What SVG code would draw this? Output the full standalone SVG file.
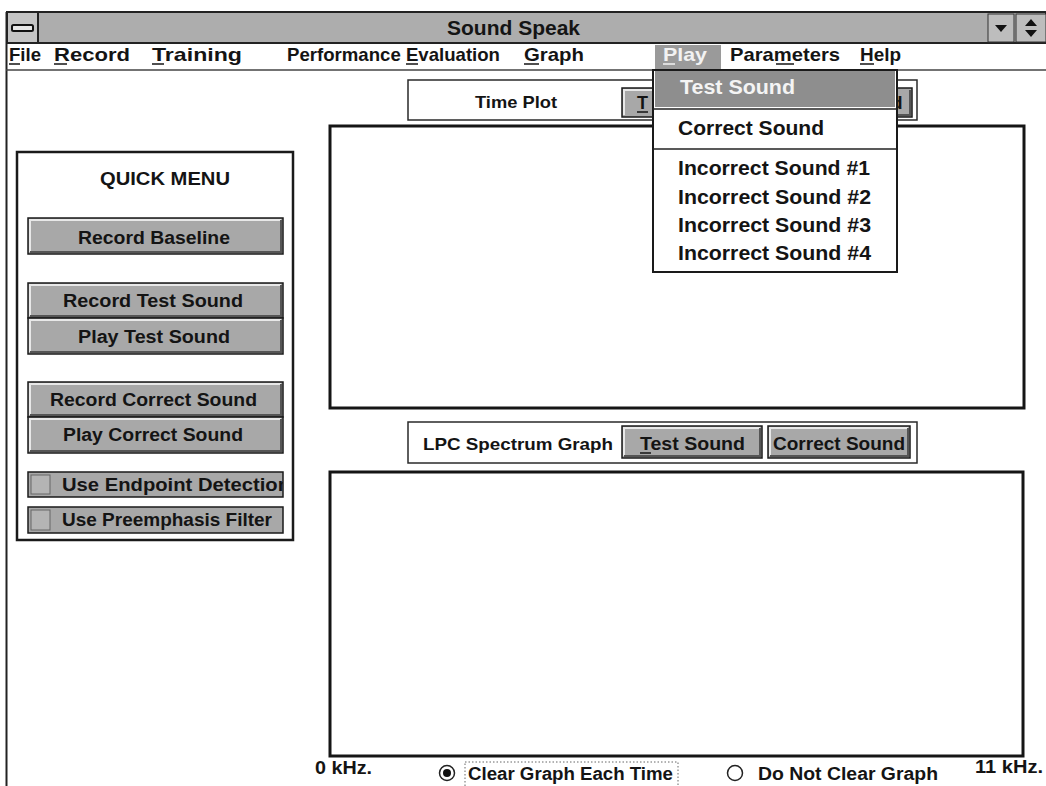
<svg xmlns="http://www.w3.org/2000/svg" width="1046" height="786" viewBox="0 0 1046 786">
  <defs>
    <style>
      text { font-family: "Liberation Sans", Arial, sans-serif; font-weight: bold; fill: #141414; }
      .menu { font-size: 19px; }
      .btn { font-size: 18px; }
      .dd { font-size: 20px; }
      .face { fill: #a8a8a8; stroke: #1a1a1a; stroke-width: 1.5; }
      .lite { fill: none; stroke: #e8e8e8; stroke-width: 2; }
      .dark { fill: none; stroke: #555; stroke-width: 2; }
      .plot { fill: #fff; stroke: #151515; stroke-width: 3; }
      .box { fill: #fff; stroke: #2a2a2a; stroke-width: 1.5; }
      .ul { stroke: #141414; stroke-width: 1.5; }
    </style>
  </defs>

  <rect width="1046" height="786" fill="#fff"/>

  <!-- window frame -->
  <g id="window-frame">
    <line x1="6.5" y1="12" x2="6.5" y2="786" stroke="#222" stroke-width="2"/>
    <line x1="6" y1="70" x2="1046" y2="70" stroke="#444" stroke-width="1.5"/>
  </g>

  <!-- title bar -->
  <g id="title-bar">
    <rect x="7" y="12" width="1039" height="31" fill="#adadad" stroke="#222" stroke-width="2"/>
    <rect x="7" y="12" width="31" height="31" fill="#c4c4c4" stroke="#222" stroke-width="2"/>
    <rect x="12" y="25" width="21" height="6" rx="1.5" fill="#e6e6e6" stroke="#111" stroke-width="2"/>
    <text x="447" y="35" font-size="21" textLength="133" lengthAdjust="spacingAndGlyphs">Sound Speak</text>
    <rect x="988" y="14" width="26" height="28" fill="#bdbdbd" stroke="#333" stroke-width="1"/>
    <path d="M995 25 L1007 25 L1001 32 Z" fill="#111"/>
    <rect x="1016" y="14" width="30" height="28" fill="#bdbdbd" stroke="#333" stroke-width="1"/>
    <path d="M1025 26 L1037 26 L1031 19 Z M1025 30 L1037 30 L1031 37 Z" fill="#111"/>
  </g>

  <!-- menu bar; mnemonic letters are underlined with short rules -->
  <g id="menu-bar">
    <rect x="655" y="45" width="66" height="24" fill="#9a9a9a"/>
    <text class="menu" x="9" y="61" textLength="32" lengthAdjust="spacingAndGlyphs">File</text>
    <line class="ul" x1="9" y1="64" x2="20" y2="64"/>
    <text class="menu" x="54" y="61" textLength="76" lengthAdjust="spacingAndGlyphs">Record</text>
    <line class="ul" x1="54" y1="64" x2="67" y2="64"/>
    <text class="menu" x="152" y="61" textLength="90" lengthAdjust="spacingAndGlyphs">Training</text>
    <line class="ul" x1="152" y1="64" x2="164" y2="64"/>
    <text class="menu" x="287" y="61" textLength="213" lengthAdjust="spacingAndGlyphs">Performance Evaluation</text>
    <line class="ul" x1="406" y1="64" x2="418" y2="64"/>
    <text class="menu" x="524" y="61" textLength="60" lengthAdjust="spacingAndGlyphs">Graph</text>
    <line class="ul" x1="524" y1="64" x2="539" y2="64"/>
    <text class="menu" x="663" y="61" textLength="44" lengthAdjust="spacingAndGlyphs" style="fill:#f2f2f2">Play</text>
    <line x1="663" y1="64" x2="675" y2="64" stroke="#f2f2f2" stroke-width="1.5"/>
    <text class="menu" x="730" y="61" textLength="110" lengthAdjust="spacingAndGlyphs">Parameters</text>
    <line class="ul" x1="776" y1="64" x2="794" y2="64"/>
    <text class="menu" x="860" y="61" textLength="41" lengthAdjust="spacingAndGlyphs">Help</text>
    <line class="ul" x1="860" y1="64" x2="874" y2="64"/>
  </g>

  <!-- quick menu panel -->
  <g id="quick-menu">
    <rect x="17" y="152" width="276" height="388" fill="#fff" stroke="#1a1a1a" stroke-width="2.5"/>
    <text x="100" y="185" font-size="19" textLength="130" lengthAdjust="spacingAndGlyphs">QUICK MENU</text>
  </g>

  <g id="btn-record-baseline">
    <rect class="face" x="28" y="218" width="255" height="36"/>
    <path class="lite" d="M30 252 V220 H281"/>
    <path class="dark" d="M30 252 H281 V220"/>
    <text class="btn" x="78" y="244" textLength="152" lengthAdjust="spacingAndGlyphs">Record Baseline</text>
  </g>

  <g id="btn-record-test">
    <rect class="face" x="28" y="283" width="255" height="35"/>
    <path class="lite" d="M30 316 V285 H281"/>
    <path class="dark" d="M30 316 H281 V285"/>
    <text class="btn" x="63" y="307" textLength="180" lengthAdjust="spacingAndGlyphs">Record Test Sound</text>
  </g>

  <g id="btn-play-test">
    <rect class="face" x="28" y="318" width="255" height="36"/>
    <path class="lite" d="M30 352 V320 H281"/>
    <path class="dark" d="M30 352 H281 V320"/>
    <text class="btn" x="78" y="343" textLength="152" lengthAdjust="spacingAndGlyphs">Play Test Sound</text>
  </g>

  <g id="btn-record-correct">
    <rect class="face" x="28" y="382" width="255" height="35"/>
    <path class="lite" d="M30 415 V384 H281"/>
    <path class="dark" d="M30 415 H281 V384"/>
    <text class="btn" x="50" y="406" textLength="207" lengthAdjust="spacingAndGlyphs">Record Correct Sound</text>
  </g>

  <g id="btn-play-correct">
    <rect class="face" x="28" y="417" width="255" height="36"/>
    <path class="lite" d="M30 451 V419 H281"/>
    <path class="dark" d="M30 451 H281 V419"/>
    <text class="btn" x="63" y="441" textLength="180" lengthAdjust="spacingAndGlyphs">Play Correct Sound</text>
  </g>

  <g id="chk-endpoint">
    <clipPath id="clip-endpoint"><rect x="28" y="470" width="255" height="30"/></clipPath>
    <rect class="face" x="28" y="472" width="255" height="25"/>
    <rect x="31" y="475" width="19" height="19" fill="#b4b4b4" stroke="#666" stroke-width="1"/>
    <text class="btn" x="62" y="491" textLength="228" lengthAdjust="spacingAndGlyphs" clip-path="url(#clip-endpoint)">Use Endpoint Detection</text>
  </g>

  <g id="chk-preemphasis">
    <rect class="face" x="28" y="507" width="255" height="26"/>
    <rect x="31" y="510" width="19" height="20" fill="#b4b4b4" stroke="#666" stroke-width="1"/>
    <text class="btn" x="62" y="526" textLength="210" lengthAdjust="spacingAndGlyphs">Use Preemphasis Filter</text>
  </g>

  <!-- time plot -->
  <g id="time-plot-bar">
    <rect class="box" x="408" y="80" width="509" height="40"/>
    <text x="475" y="108" font-size="17" textLength="82" lengthAdjust="spacingAndGlyphs">Time Plot</text>
    <rect class="face" x="622" y="88" width="130" height="29"/>
    <path class="lite" d="M624 115 V90 H750"/>
    <text x="637" y="109" font-size="18">T</text>
    <line class="ul" x1="637" y1="112" x2="648" y2="112"/>
    <rect class="face" x="768" y="88" width="144" height="29"/>
    <path class="dark" d="M770 115 H910 V90"/>
    <text x="891" y="109" font-size="19">d</text>
  </g>

  <g id="time-plot">
    <rect class="plot" x="330" y="126" width="694" height="282"/>
  </g>

  <!-- spectrum graph -->
  <g id="lpc-bar">
    <rect class="box" x="408" y="422" width="509" height="41"/>
    <text x="423" y="450" font-size="17" textLength="190" lengthAdjust="spacingAndGlyphs">LPC Spectrum Graph</text>
    <rect class="face" x="622" y="426" width="140" height="32"/>
    <path class="lite" d="M624 456 V428 H760"/>
    <path class="dark" d="M624 456 H760 V428"/>
    <text x="640" y="450" font-size="18" textLength="105" lengthAdjust="spacingAndGlyphs">Test Sound</text>
    <line class="ul" x1="640" y1="453" x2="651" y2="453"/>
    <rect class="face" x="768" y="426" width="142" height="32"/>
    <path class="lite" d="M770 456 V428 H908"/>
    <path class="dark" d="M770 456 H908 V428"/>
    <text x="773" y="450" font-size="18" textLength="132" lengthAdjust="spacingAndGlyphs">Correct Sound</text>
  </g>

  <g id="lpc-plot">
    <rect class="plot" x="330" y="472" width="693" height="284"/>
  </g>

  <!-- bottom controls -->
  <g id="axis-labels">
    <text x="315" y="774" font-size="19" textLength="57" lengthAdjust="spacingAndGlyphs">0 kHz.</text>
    <text x="975" y="773" font-size="19" textLength="68" lengthAdjust="spacingAndGlyphs">11 kHz.</text>
  </g>

  <g id="radio-clear">
    <circle cx="447" cy="773" r="7.5" fill="#fff" stroke="#222" stroke-width="1.5"/>
    <circle cx="447" cy="773" r="4" fill="#111"/>
    <rect x="465" y="762" width="213" height="30" fill="none" stroke="#666" stroke-width="1" stroke-dasharray="1.5 2"/>
    <text x="468" y="780" font-size="18" textLength="205" lengthAdjust="spacingAndGlyphs">Clear Graph Each Time</text>
  </g>

  <g id="radio-keep">
    <circle cx="735" cy="773" r="7.5" fill="#fff" stroke="#222" stroke-width="1.5"/>
    <text x="758" y="780" font-size="18" textLength="180" lengthAdjust="spacingAndGlyphs">Do Not Clear Graph</text>
  </g>

  <!-- open Play menu -->
  <g id="play-dropdown">
    <rect x="653" y="70" width="244" height="202" fill="#fff" stroke="#1a1a1a" stroke-width="2"/>
    <rect x="655" y="71" width="240" height="36" fill="#8e8e8e"/>
    <line x1="653" y1="109" x2="897" y2="109" stroke="#222" stroke-width="1.5"/>
    <line x1="653" y1="149" x2="897" y2="149" stroke="#222" stroke-width="1.5"/>
    <text class="dd" x="680" y="94" textLength="115" lengthAdjust="spacingAndGlyphs" style="fill:#f4f4f4">Test Sound</text>
    <text class="dd" x="678" y="135" textLength="146" lengthAdjust="spacingAndGlyphs">Correct Sound</text>
    <text class="dd" x="678" y="175" textLength="192" lengthAdjust="spacingAndGlyphs">Incorrect Sound #1</text>
    <text class="dd" x="678" y="204" textLength="193" lengthAdjust="spacingAndGlyphs">Incorrect Sound #2</text>
    <text class="dd" x="678" y="232" textLength="193" lengthAdjust="spacingAndGlyphs">Incorrect Sound #3</text>
    <text class="dd" x="678" y="260" textLength="193" lengthAdjust="spacingAndGlyphs">Incorrect Sound #4</text>
  </g>
</svg>
